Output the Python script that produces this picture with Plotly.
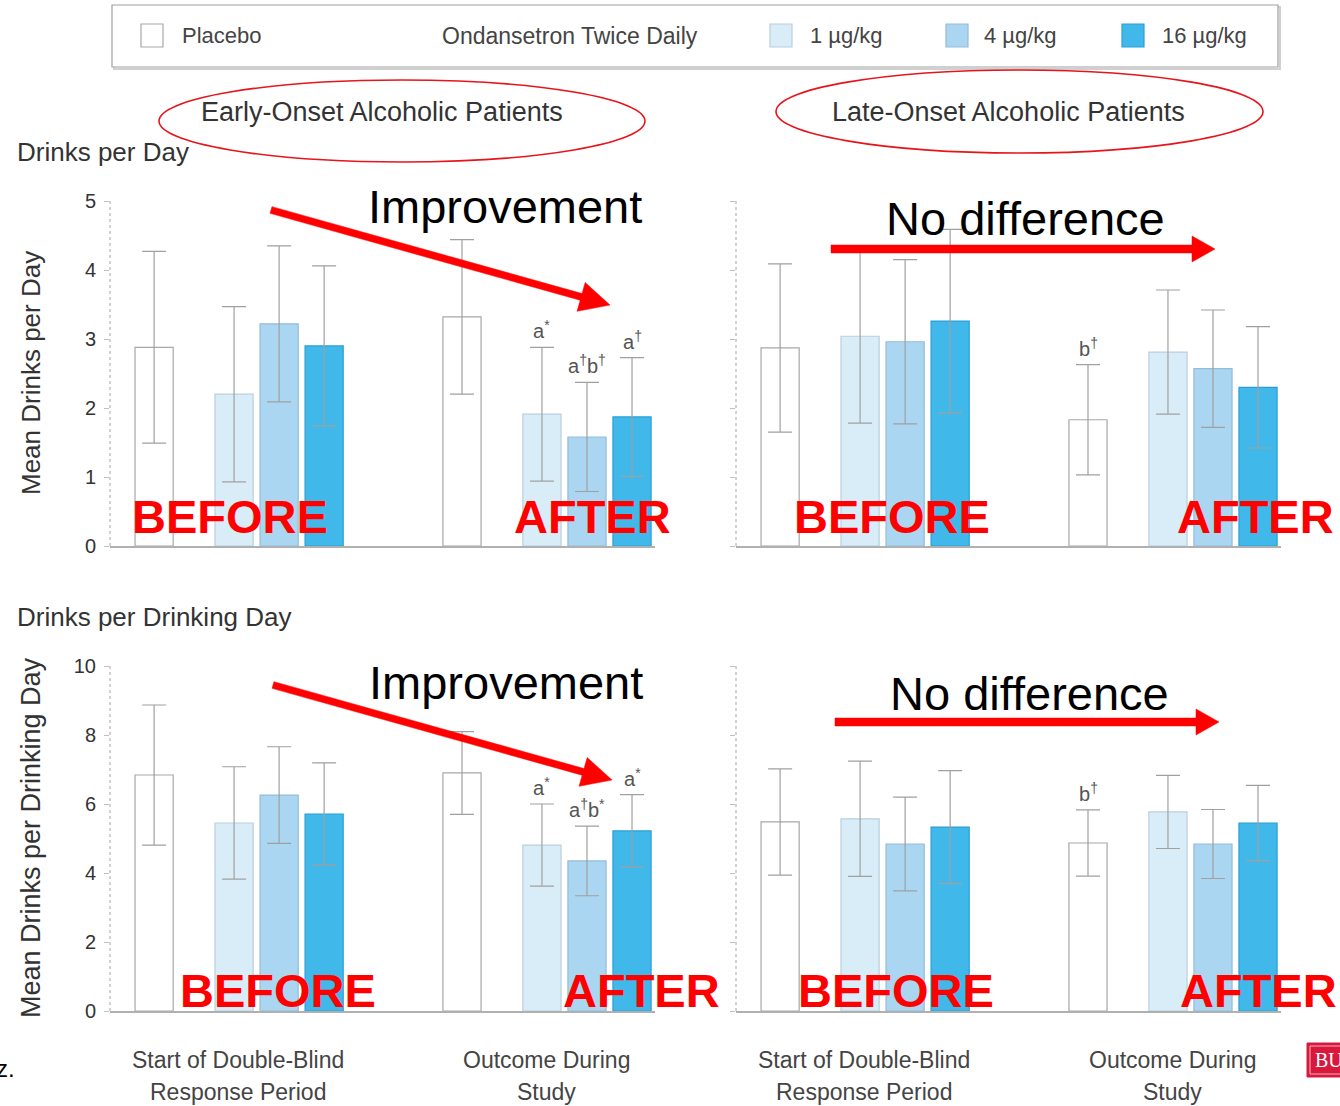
import plotly.graph_objects as go

W, H = 1340, 1106

# ---------------- data ----------------
doses = ["Placebo", "1 µg/kg", "4 µg/kg", "16 µg/kg"]
periods = ["Start of Double-Blind|Response Period", "Outcome During|Study"]

# Drinks per day (early onset)
early_dpd_start = [2.88, 2.20, 3.22, 2.90]
early_dpd_start_err = [1.39, 1.27, 1.13, 1.16]
early_dpd_outcome = [3.32, 1.91, 1.58, 1.87]
early_dpd_outcome_err = [1.12, 0.97, 0.79, 0.86]
# Drinks per day (late onset)
late_dpd_start = [2.87, 3.04, 2.96, 3.26]
late_dpd_start_err = [1.22, 1.26, 1.19, 1.33]
late_dpd_outcome = [1.83, 2.81, 2.57, 2.30]
late_dpd_outcome_err = [0.80, 0.90, 0.85, 0.88]
# Drinks per drinking day (early onset)
early_dpdd_start = [6.84, 5.45, 6.26, 5.71]
early_dpdd_start_err = [2.03, 1.63, 1.40, 1.48]
early_dpdd_outcome = [6.90, 4.81, 4.35, 5.22]
early_dpdd_outcome_err = [1.20, 1.19, 1.01, 1.05]
# Drinks per drinking day (late onset)
late_dpdd_start = [5.48, 5.57, 4.84, 5.33]
late_dpdd_start_err = [1.54, 1.67, 1.36, 1.64]
late_dpdd_outcome = [4.87, 5.77, 4.84, 5.45]
late_dpdd_outcome_err = [0.96, 1.06, 1.00, 1.09]

# significance marks above outcome bars
sig_early_dpd = ["", "a<sup>*</sup>", "a<sup>†</sup>b<sup>†</sup>", "a<sup>†</sup>"]
sig_late_dpd = ["b<sup>†</sup>", "", "", ""]
sig_early_dpdd = ["", "a<sup>*</sup>", "a<sup>†</sup>b<sup>*</sup>", "a<sup>*</sup>"]
sig_late_dpdd = ["b<sup>†</sup>", "", "", ""]

yticks_dpd = [0, 1, 2, 3, 4, 5]
yticks_dpdd = [0, 2, 4, 6, 8, 10]

# ---------------- styles ----------------
fills = ["#ffffff", "#d9edf9", "#abd6f2", "#41b8ea"]
lines = ["#a8a8a8", "#b9cfdc", "#93bcd8", "#2a9fd6"]
FONT = "Liberation Sans, Arial, sans-serif"
RED = "#ff0000"

def PX(px):
    return px / W

def PY(py):
    return 1 - py / H

# bar slot positions (layout)
dose_off = [0.0, 1.74, 2.72, 3.70]
group_off = [0.0, 6.70]
bar_w = 0.83

fig = go.Figure()

panels = [
    ("", early_dpd_start, early_dpd_start_err, early_dpd_outcome, early_dpd_outcome_err, sig_early_dpd),
    ("2", late_dpd_start, late_dpd_start_err, late_dpd_outcome, late_dpd_outcome_err, sig_late_dpd),
    ("3", early_dpdd_start, early_dpdd_start_err, early_dpdd_outcome, early_dpdd_outcome_err, sig_early_dpdd),
    ("4", late_dpdd_start, late_dpdd_start_err, late_dpdd_outcome, late_dpdd_outcome_err, sig_late_dpdd),
]

annotations = []
for suf, s, se, o, oe, sig in panels:
    xa = "x" + suf
    ya = "y" + suf
    for i, d in enumerate(doses):
        xs = [group_off[0] + dose_off[i], group_off[1] + dose_off[i]]
        fig.add_trace(go.Bar(
            x=xs, y=[s[i], o[i]], width=bar_w, name=d,
            marker=dict(color=fills[i], line=dict(color=lines[i], width=1.2)),
            error_y=dict(type="data", array=[se[i], oe[i]], visible=True,
                         color="#a0a0a0", thickness=1.2, width=12),
            xaxis=xa, yaxis=ya, showlegend=False, hoverinfo="skip",
        ))
        if sig[i]:
            annotations.append(dict(
                x=xs[1], y=o[i] + oe[i], xref=xa, yref=ya, text=sig[i],
                showarrow=False, yanchor="bottom", xanchor="center", yshift=3,
                font=dict(family=FONT, size=20, color="#555555")))

# ---------------- axes ----------------
xr = [-0.96, 10.9]
xdom_l = [PX(110), PX(655)]
xdom_r = [PX(736), PX(1281)]
ydom_t = [PY(546), PY(201)]
ydom_b = [PY(1011), PY(666)]

def xaxis(dom, anchor):
    return dict(domain=dom, anchor=anchor, range=xr, showgrid=False, zeroline=False,
                showline=True, linecolor="#b0b0b0", linewidth=2, showticklabels=False,
                ticks="", fixedrange=True, automargin=False)

def yaxis(dom, anchor, rng, ticks, labels):
    return dict(domain=dom, anchor=anchor, range=rng, showgrid=False, zeroline=False,
                showline=False, ticks="outside",
                ticklen=5, tickcolor="#c0c0c0", tickvals=ticks, automargin=False,
                showticklabels=labels, ticklabelstandoff=4,
                tickfont=dict(family=FONT, size=20, color="#333333"))

fig.update_layout(
    xaxis=xaxis(xdom_l, "y"), yaxis=yaxis(ydom_t, "x", [0, 5], yticks_dpd, True),
    xaxis2=xaxis(xdom_r, "y2"), yaxis2=yaxis(ydom_t, "x2", [0, 5], yticks_dpd, False),
    xaxis3=xaxis(xdom_l, "y3"), yaxis3=yaxis(ydom_b, "x3", [0, 10], yticks_dpdd, True),
    xaxis4=xaxis(xdom_r, "y4"), yaxis4=yaxis(ydom_b, "x4", [0, 10], yticks_dpdd, False),
)

shapes = []
# dotted vertical axis lines
for xd in (xdom_l, xdom_r):
    for yd in (ydom_t, ydom_b):
        shapes.append(dict(type="line", xref="paper", yref="paper", x0=xd[0], x1=xd[0],
                           y0=yd[0], y1=yd[1], line=dict(color="#c4c4c4", width=1.5, dash="dot"),
                           layer="below"))

# category labels below bottom panels
cat_x = [1.83, 8.54]
for xa in ["x3", "x4"]:
    for j, p in enumerate(periods):
        l1, l2 = p.split("|")
        annotations.append(dict(x=cat_x[j], y=PY(1060), xref=xa, yref="paper", text=l1,
                                showarrow=False, yanchor="middle",
                                font=dict(family=FONT, size=23, color="#444444")))
        annotations.append(dict(x=cat_x[j], y=PY(1092), xref=xa, yref="paper", text=l2,
                                showarrow=False, yanchor="middle",
                                font=dict(family=FONT, size=23, color="#444444")))

def txt(x, y, t, size, color="#333333", bold=False, angle=0, xanchor="center"):
    annotations.append(dict(x=PX(x), y=PY(y), xref="paper", yref="paper",
                            text=("<b>%s</b>" % t) if bold else t, showarrow=False,
                            xanchor=xanchor, yanchor="middle", textangle=angle,
                            font=dict(family=FONT, size=size, color=color)))

# section titles and axis titles
txt(15, 152, "Drinks per Day", 26, xanchor="left")
txt(15, 617, "Drinks per Drinking Day", 26, xanchor="left")
txt(31, 373, "Mean Drinks per Day", 26, angle=-90)
txt(31, 838, "Mean Drinks per Drinking Day", 27, angle=-90)
txt(382, 112, "Early-Onset Alcoholic Patients", 27)
txt(1008, 112, "Late-Onset Alcoholic Patients", 27)

# legend
shapes.append(dict(type="rect", xref="paper", yref="paper", x0=PX(114), x1=PX(1280),
                   y0=PY(69), y1=PY(7), line=dict(color="#d0d0d0", width=2), fillcolor="rgba(0,0,0,0)"))
shapes.append(dict(type="rect", xref="paper", yref="paper", x0=PX(112), x1=PX(1278),
                   y0=PY(67), y1=PY(5), line=dict(color="#a0a0a0", width=1.2), fillcolor="white"))
leg_sq = [141, 770, 946, 1122]
leg_tx = [180, 808, 982, 1160]
for i, d in enumerate(doses):
    shapes.append(dict(type="rect", xref="paper", yref="paper", x0=PX(leg_sq[i]), x1=PX(leg_sq[i] + 22),
                       y0=PY(47), y1=PY(24), fillcolor=fills[i], line=dict(color=lines[i], width=1.2)))
    txt(leg_tx[i], 36, d, 22, color="#444444", xanchor="left")
txt(440, 36, "Ondansetron Twice Daily", 23, color="#444444", xanchor="left")

# ellipses
shapes.append(dict(type="circle", xref="paper", yref="paper", x0=PX(159), x1=PX(645),
                   y0=PY(162), y1=PY(80), line=dict(color="#e8141c", width=1.6)))
shapes.append(dict(type="circle", xref="paper", yref="paper", x0=PX(776), x1=PX(1263),
                   y0=PY(153), y1=PY(70), line=dict(color="#e8141c", width=1.6)))

# arrows
def arrow(x0, y0, x1, y1, L, Wh, w):
    dx, dy = x1 - x0, y1 - y0
    n = (dx * dx + dy * dy) ** 0.5
    ux, uy = dx / n, dy / n
    nx, ny = -uy, ux
    bx, by = x1 - ux * L, y1 - uy * L
    pts = [
        (x0 + nx * w / 2, y0 + ny * w / 2),
        (bx + nx * w / 2, by + ny * w / 2),
        (bx + nx * Wh, by + ny * Wh),
        (x1, y1),
        (bx - nx * Wh, by - ny * Wh),
        (bx - nx * w / 2, by - ny * w / 2),
        (x0 - nx * w / 2, y0 - ny * w / 2),
    ]
    path = "M " + " L ".join("%.5f,%.5f" % (PX(px), PY(py)) for px, py in pts) + " Z"
    shapes.append(dict(type="path", xref="paper", yref="paper", path=path,
                       fillcolor=RED, line=dict(color=RED, width=0.5), layer="above"))

arrow(271, 210, 610, 305, 30, 15, 7)
arrow(273, 685, 612, 780, 30, 15, 7)
arrow(831, 249, 1215, 249, 23, 13, 8)
arrow(835, 722, 1219, 722, 23, 13, 8)

txt(505, 207, "Improvement", 47, color="#000000")
txt(506, 682, "Improvement", 47, color="#000000")
txt(1025, 219, "No difference", 47, color="#000000")
txt(1029, 693, "No difference", 47, color="#000000")

# BEFORE / AFTER
for (x, y, t) in [(230, 516, "BEFORE"), (592, 516, "AFTER"), (892, 516, "BEFORE"), (1255, 516, "AFTER"),
                  (278, 990, "BEFORE"), (641, 990, "AFTER"), (896, 990, "BEFORE"), (1258, 990, "AFTER")]:
    txt(x, y, t, 47, color=RED, bold=True)

# BU logo and slide fragment
shapes.append(dict(type="rect", xref="paper", yref="paper", x0=PX(1307), x1=PX(1345),
                   y0=PY(1077), y1=PY(1043), fillcolor="#d8193c", line=dict(color="#d8193c", width=1)))
shapes.append(dict(type="rect", xref="paper", yref="paper", x0=PX(1310), x1=PX(1345),
                   y0=PY(1074), y1=PY(1046), fillcolor="rgba(0,0,0,0)", line=dict(color="#f3b7c2", width=1)))
annotations.append(dict(x=PX(1313), y=PY(1060), xref="paper", yref="paper", text="BU",
                        showarrow=False, xanchor="left", yanchor="middle",
                        font=dict(family="Liberation Serif, serif", size=20, color="white")))
annotations.append(dict(x=PX(-6), y=PY(1068), xref="paper", yref="paper", text="z.",
                        showarrow=False, xanchor="left", yanchor="middle",
                        font=dict(family=FONT, size=24, color="#000000")))

fig.update_layout(
    width=W, height=H, autosize=False,
    margin=dict(l=0, r=0, t=0, b=0, pad=0, autoexpand=False),
    paper_bgcolor="white", plot_bgcolor="white",
    barmode="overlay", showlegend=False,
    annotations=annotations, shapes=shapes,
)

fig.write_html(
    "out.html",
    config={"displayModeBar": False, "staticPlot": True},
    post_script=(
        "document.body.style.margin='0px';"
        "document.body.style.overflow='hidden';"
    ),
)
